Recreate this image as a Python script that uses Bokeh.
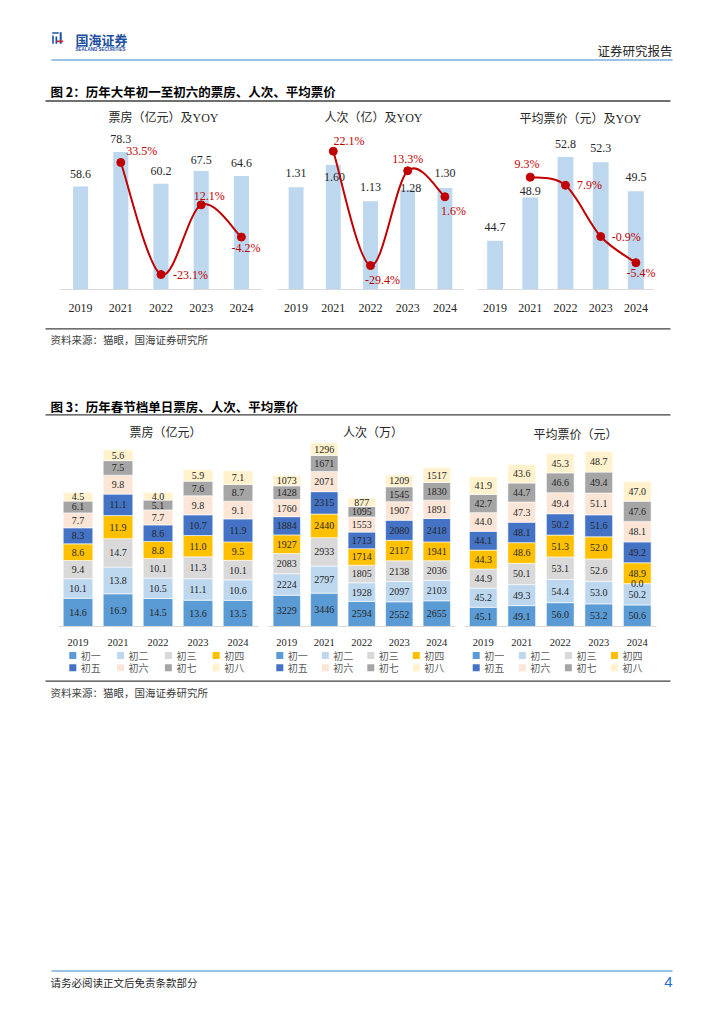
import numpy as np
from bokeh.plotting import figure
from bokeh.layouts import column, row
from bokeh.models import Range1d, FixedTicker, ColumnDataSource
from bokeh.core.properties import value
from bokeh.embed import file_html
from bokeh.resources import INLINE

# ---------------- data ----------------
years = ["2019", "2021", "2022", "2023", "2024"]

box_office = [58.6, 78.3, 60.2, 67.5, 64.6]          # 亿元
box_office_yoy = [33.5, -23.1, 12.1, -4.2]           # 2021-2024, %
admissions = [1.31, 1.60, 1.13, 1.28, 1.30]          # 亿
admissions_yoy = [22.1, -29.4, 13.3, 1.6]
avg_price = [44.7, 48.9, 52.8, 52.3, 49.5]           # 元
avg_price_yoy = [9.3, 7.9, -0.9, -5.4]

days = ["初一", "初二", "初三", "初四", "初五", "初六", "初七", "初八"]
day_colors = ["#5b9bd5", "#bdd7ee", "#d9d9d9", "#ffc000",
              "#4472c4", "#fbe5d6", "#a5a5a5", "#fff2cc"]

# one row per year (2019, 2021, 2022, 2023, 2024), one value per day 初一..初八
daily_box_office = [
    [14.6, 10.1, 9.4, 8.6, 8.3, 7.7, 6.1, 4.5],
    [16.9, 13.8, 14.7, 11.9, 11.1, 9.8, 7.5, 5.6],
    [14.5, 10.5, 10.1, 8.8, 8.6, 7.7, 5.1, 4.0],
    [13.6, 11.1, 11.3, 11.0, 10.7, 9.8, 7.6, 5.9],
    [13.5, 10.6, 10.1, 9.5, 11.9, 9.1, 8.7, 7.1],
]
daily_admissions = [
    [3229, 2224, 2083, 1927, 1884, 1760, 1428, 1073],
    [3446, 2797, 2933, 2440, 2315, 2071, 1671, 1296],
    [2594, 1928, 1805, 1714, 1713, 1553, 1095, 877],
    [2552, 2097, 2138, 2117, 2080, 1907, 1545, 1209],
    [2655, 2103, 2036, 1941, 2418, 1891, 1830, 1517],
]
daily_avg_price = [
    [45.1, 45.2, 44.9, 44.3, 44.1, 44.0, 42.7, 41.9],
    [49.1, 49.3, 50.1, 48.6, 48.1, 47.3, 44.7, 43.6],
    [56.0, 54.4, 53.1, 51.3, 50.2, 49.4, 46.6, 45.3],
    [53.2, 53.0, 52.6, 52.0, 51.6, 51.1, 49.4, 48.7],
    [50.6, 50.2, 0.0, 48.9, 49.2, 48.1, 47.6, 47.0],
]

# ---------------- styles ----------------
SERIF = "'Liberation Serif', 'Noto Sans CJK SC'"
CJK = "'Noto Sans CJK SC'"
NUM = "Liberation Serif"
TXT = "#262626"
RED = "#c00000"
BAR = "#bdd7ee"
RULE = "#404040"
BLUE_RULE = "#9dc3e6"
PAGE_W = 716


def canvas(top, bottom):
    p = figure(width=PAGE_W, height=bottom - top,
               x_range=Range1d(0, PAGE_W), y_range=Range1d(bottom, top),
               x_axis_type=None, y_axis_type=None, title=None,
               output_backend="svg", toolbar_location=None, min_border=0)
    p.outline_line_color = None
    return p


def txt(p, x, y, s, size, color=TXT, font=SERIF, align="left", bold=False):
    p.text(x=[x], y=[y], text=[s], text_font=value(font),
           text_font_size=f"{size}px", text_color=color, text_align=align,
           text_baseline="middle", text_font_style="bold" if bold else "normal")


def hline(p, x0, x1, y, color, width):
    p.segment(x0=[x0], y0=[y], x1=[x1], y1=[y], line_color=color, line_width=width)


def style_xaxis(p, n, size, standoff):
    ax = p.xaxis[0]
    ax.ticker = FixedTicker(ticks=list(range(n)))
    ax.major_label_overrides = {i: y for i, y in enumerate(years)}
    ax.bounds = (-0.5, n - 0.5)
    ax.axis_line_color = "#d9d9d9"
    ax.axis_line_width = 1
    ax.major_tick_line_color = None
    ax.minor_tick_line_color = None
    ax.major_label_text_font = NUM
    ax.major_label_text_font_size = f"{size}px"
    ax.major_label_text_color = TXT
    ax.major_label_standoff = standoff


def base_fig(fig_l, fig_r, cat_l, cat_r, top, base, bottom, yr):
    n = len(years)
    u = (cat_r - cat_l) / n
    p = figure(width=fig_r - fig_l, height=bottom - top,
               x_range=Range1d((fig_l - cat_l) / u - 0.5, n - 0.5 + (fig_r - cat_r) / u),
               y_range=Range1d(*yr), y_axis_location=None, title=None,
               output_backend="svg", toolbar_location=None,
               min_border_left=0, min_border_right=0, min_border_top=0,
               min_border_bottom=bottom - base)
    p.outline_line_color = None
    p.xgrid.visible = False
    p.ygrid.visible = False
    return p


def combo_chart(fig_l, fig_r, cat_l, cat_r, yr, yr2, bars, yoy, bar_w, fmt,
                bar_dx, bar_dy, yoy_dx, yoy_dy):
    n = len(years)
    p = base_fig(fig_l, fig_r, cat_l, cat_r, 126, 289, 315, yr)
    p.extra_y_ranges = {"yoy": Range1d(*yr2)}
    style_xaxis(p, n, 12, 8)
    xs = list(range(n))
    p.vbar(x=xs, top=bars, bottom=yr[0], width=bar_w, fill_color=BAR, line_color=None)
    p.text(x=xs, y=bars, text=[fmt.format(v) for v in bars],
           x_offset=bar_dx, y_offset=bar_dy, text_align="center", text_baseline="middle",
           text_font=value(NUM), text_font_size="12px", text_color=TXT)
    # smooth (Catmull-Rom style) line through the YoY points
    px = np.array(xs[1:], dtype=float)
    py = np.array(yoy, dtype=float)
    ex = np.r_[px[0], px, px[-1]]
    ey = np.r_[py[0], py, py[-1]]
    m = len(px)
    i = np.arange(m - 1)
    cx0 = ex[i + 1] + (ex[i + 2] - ex[i]) / 6
    cy0 = ey[i + 1] + (ey[i + 2] - ey[i]) / 6
    cx1 = ex[i + 2] - (ex[i + 3] - ex[i + 1]) / 6
    cy1 = ey[i + 2] - (ey[i + 3] - ey[i + 1]) / 6
    p.bezier(x0=px[:-1], y0=py[:-1], x1=px[1:], y1=py[1:],
             cx0=cx0, cy0=cy0, cx1=cx1, cy1=cy1,
             line_color=RED, line_width=2, y_range_name="yoy")
    p.scatter(x=px, y=py, size=8, fill_color=RED, line_color=RED, y_range_name="yoy")
    p.text(x=px, y=py, text=[f"{v:.1f}%" for v in yoy], x_offset=yoy_dx, y_offset=yoy_dy,
           text_align="center", text_baseline="middle", text_font=value(NUM),
           text_font_size="12px", text_color=RED, y_range_name="yoy")
    return p


def stacked_chart(fig_l, fig_r, cat_l, cat_r, ymax, data, bar_w, fmt):
    n = len(years)
    p = base_fig(fig_l, fig_r, cat_l, cat_r, 440, 626, 648, (0, ymax))
    style_xaxis(p, n, 10.5, 6)
    xs = list(range(n))
    src = {"x": xs}
    for j, d in enumerate(days):
        src[d] = [rowv[j] for rowv in data]
    p.vbar_stack(days, x="x", width=bar_w, fill_color=day_colors,
                 line_color="white", line_width=0.6, source=ColumnDataSource(src))
    arr = np.array(data, dtype=float)
    mid = np.cumsum(arr, axis=1) - arr / 2
    lx = np.repeat(xs, len(days))
    p.text(x=lx, y=mid.flatten(), text=[fmt.format(v) for v in arr.flatten()],
           text_align="center", text_baseline="middle", text_font=value(NUM),
           text_font_size="10px", text_color=TXT)
    return p


# ---------------- header ----------------
header = canvas(0, 126)
header.quad(left=[51.7, 51.7, 55.0, 59.2], right=[58.3, 53.3, 56.7, 61.2],
            top=[31.7, 35.0, 36.0, 31.7], bottom=[33.3, 43.3, 43.3, 43.3],
            fill_color="#1d4f9f", line_color=None)
header.quad(left=[56.5], right=[62.7], top=[40.0], bottom=[41.8],
            fill_color="#d7262e", line_color=None)
txt(header, 75, 38.8, "国海证券", 13, color="#1d4f9f", font=CJK, bold=True)
txt(header, 75, 49, "SEALAND SECURITIES", 4.5, color="#1d4f9f", font="Liberation Sans", bold=True)
txt(header, 672, 50, "证券研究报告", 12.5, font=CJK, align="right")
hline(header, 51, 672, 59.5, BLUE_RULE, 2)
txt(header, 50, 91, "图 2：历年大年初一至初六的票房、人次、平均票价", 12.5, color="#000000",
    font=CJK, bold=True)
hline(header, 45, 670, 100.5, RULE, 1.3)
txt(header, 163, 117, "票房（亿元）及YOY", 12, align="center")
txt(header, 373, 117, "人次（亿）及YOY", 12, align="center")
txt(header, 580, 118, "平均票价（元）及YOY", 12, align="center")

# ---------------- figure 2 charts ----------------
c1 = combo_chart(0, 270, 60, 261, (0, 92.8), (-30.66, 51.67), box_office, box_office_yoy,
                 0.375, "{:.1f}", [0, 0, 0, 0, 0], [-13, -13, -13, -11, -13],
                 [21, 29.5, 8, 4.5], [-11, 0, -9, 10.5])
c2 = combo_chart(270, 470, 277, 463, (0, 2.09), (-40.18, 33.24), admissions, admissions_yoy,
                 0.4, "{:.2f}", [0, 1.3, 0, 3, 0], [-14, 12, -14, -2, -15],
                 [15.7, 12, 0, 8.7], [-10, 14, -12, 14.4])
c3 = combo_chart(470, 716, 477, 653, (40, 55.75), (-10.0, 18.0), avg_price, avg_price_yoy,
                 0.45, "{:.1f}", [0, 0, 0, 0, 0], [-14, -6.7, -13.3, -14, -14],
                 [-3.3, 24, 25.5, 5], [-12.7, 0, 0, 10.4])

# ---------------- middle ----------------
mid = canvas(315, 440)
hline(mid, 45, 670, 328.3, RULE, 1.3)
txt(mid, 50, 339, "资料来源：猫眼，国海证券研究所", 10.5, color="#404040", font=CJK)
txt(mid, 50, 406, "图 3：历年春节档单日票房、人次、平均票价", 12.5, color="#000000",
    font=CJK, bold=True)
hline(mid, 45, 670, 414.3, RULE, 1.3)
txt(mid, 165, 432.5, "票房（亿元）", 12, align="center")
txt(mid, 372.5, 432.5, "人次（万）", 12, align="center")
txt(mid, 575, 434, "平均票价（元）", 12, align="center")

# ---------------- figure 3 charts ----------------
s1 = stacked_chart(0, 262, 57.5, 257.5, 96.1, daily_box_office, 0.74, "{:.1f}")
s2 = stacked_chart(262, 460, 267.5, 455, 19214, daily_admissions, 0.73, "{:.0f}")
s3 = stacked_chart(460, 716, 463.5, 656, 437.1, daily_avg_price, 0.72, "{:.1f}")

# ---------------- footer (legends, source, page footer) ----------------
foot = canvas(648, 1000)
for sq0, step in [(72.3, 47.8), (279.3, 45.5), (475.7, 46.1)]:
    lx, ly, lc = [], [], []
    for k, d in enumerate(days):
        r, c = divmod(k, 4)
        lx.append(sq0 + c * step)
        ly.append([655, 667.3][r])
        lc.append(day_colors[k])
    foot.scatter(x=lx, y=ly, marker="square", size=7, fill_color=lc, line_color=None)
    foot.text(x=[v + 8 for v in lx], y=ly, text=days, text_font=value(CJK),
              text_font_size="10px", text_color="#595959", text_align="left",
              text_baseline="middle")
hline(foot, 45, 670, 680.7, RULE, 1.3)
txt(foot, 50, 691.5, "资料来源：猫眼，国海证券研究所", 10.5, color="#404040", font=CJK)
hline(foot, 51, 672, 970.5, BLUE_RULE, 2)
txt(foot, 50, 982, "请务必阅读正文后免责条款部分", 10.5, color="#262626", font=CJK)
txt(foot, 672, 981, "4", 15, color="#1f6fd1", font="Liberation Sans", align="right")

layout = column(header, row(c1, c2, c3), mid, row(s1, s2, s3), foot)

open("out.html", "w").write(file_html(layout, INLINE))
